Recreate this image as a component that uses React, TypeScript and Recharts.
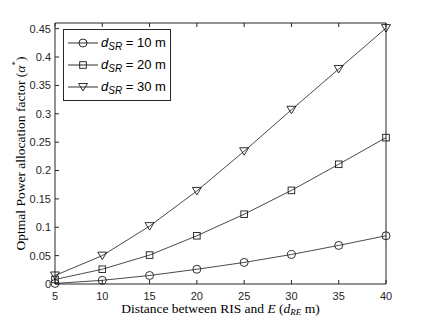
import { LineChart, Line, XAxis, YAxis, Legend } from 'recharts'

const distances = [5, 10, 15, 20, 25, 30, 35, 40]
const alphaD10 = [0.001, 0.0065, 0.015, 0.026, 0.038, 0.052, 0.068, 0.085]
const alphaD20 = [0.008, 0.026, 0.051, 0.085, 0.123, 0.165, 0.211, 0.258]
const alphaD30 = [0.015, 0.05, 0.102, 0.164, 0.234, 0.307, 0.379, 0.451]

const xTicks = [5, 10, 15, 20, 25, 30, 35, 40]
const yTicks = [0, 0.05, 0.1, 0.15, 0.2, 0.25, 0.3, 0.35, 0.4, 0.45]

const seriesInfo = [
  { key: 'd10', label: '10 m', marker: 'circle' },
  { key: 'd20', label: '20 m', marker: 'square' },
  { key: 'd30', label: '30 m', marker: 'triangle' },
]

const data = distances.map((d, i) => ({
  dist: d,
  d10: alphaD10[i],
  d20: alphaD20[i],
  d30: alphaD30[i],
}))

const AXIS = '#262626'
const LINE = '#1a1a1a'
const tickFont = { fontFamily: 'Liberation Sans, Arial, sans-serif', fontSize: 11, fill: AXIS }
const serif = 'Liberation Serif, Times New Roman, serif'

function Marker({ cx, cy, kind }: { cx: number; cy: number; kind: string }) {
  if (cx == null || cy == null) return null
  if (kind === 'circle') {
    return <circle cx={cx} cy={cy} r={4} fill="none" stroke={LINE} strokeWidth={0.9} />
  }
  if (kind === 'square') {
    return <rect x={cx - 3.3} y={cy - 3.3} width={6.6} height={6.6} fill="none" stroke={LINE} strokeWidth={0.9} />
  }
  return (
    <path
      d={`M${cx - 4.5},${cy - 3.5} L${cx + 4.5},${cy - 3.5} L${cx},${cy + 4} Z`}
      fill="none"
      stroke={LINE}
      strokeWidth={0.9}
    />
  )
}

const renderLegend = () => (
  <div
    style={{
      border: `1px solid ${AXIS}`,
      background: '#fff',
      padding: '2px 4px 2px 3px',
      fontFamily: 'Liberation Sans, Arial, sans-serif',
      fontSize: 13,
      color: '#000',
    }}
  >
    {seriesInfo.map((s) => (
      <div key={s.key} style={{ display: 'flex', alignItems: 'center', height: 22 }}>
        <svg width={32} height={14} style={{ marginRight: 2 }}>
          <line x1={1} y1={7} x2={31} y2={7} stroke={LINE} strokeWidth={0.9} />
          <Marker cx={16} cy={7} kind={s.marker} />
        </svg>
        <span>
          <i>d</i>
          <sub style={{ fontSize: 10, fontStyle: 'italic', verticalAlign: -3 }}>SR</sub> = {s.label}
        </span>
      </div>
    ))}
  </div>
)

const fmt = (v: number) => String(Number(v.toFixed(2)))

export default function App() {
  return (
    <div style={{ position: 'absolute', left: 0, top: 0, background: '#fff' }}>
      <LineChart width={427} height={320} data={data} margin={{ top: 22, right: 40, left: 54, bottom: 35 }}>
        <XAxis
          dataKey="dist"
          type="number"
          domain={[5, 40]}
          ticks={xTicks}
          height={1}
          stroke={AXIS}
          tickSize={-4}
          tickMargin={12}
          tick={tickFont}
          label={{
            position: 'bottom',
            content: ({ viewBox }: any) => (
              <text
                x={viewBox.x + viewBox.width / 2}
                y={313}
                textAnchor="middle"
                fontFamily={serif}
                fontSize={13.5}
                fill="#000"
              >
                Distance between RIS and <tspan fontStyle="italic">E</tspan> (
                <tspan fontStyle="italic">d</tspan>
                <tspan fontStyle="italic" fontSize={9} dy={2}>RE</tspan>
                <tspan dy={-2}> m)</tspan>
              </text>
            ),
          }}
        />
        <XAxis
          xAxisId="top"
          orientation="top"
          dataKey="dist"
          type="number"
          domain={[5, 40]}
          ticks={xTicks}
          height={1}
          stroke={AXIS}
          tickSize={-4}
          tickFormatter={() => ''}
        />
        <YAxis
          type="number"
          domain={[0, 0.46]}
          ticks={yTicks}
          width={1}
          stroke={AXIS}
          tickSize={-4}
          tickMargin={8}
          tick={tickFont}
          tickFormatter={fmt}
          label={{
            position: 'left',
            content: ({ viewBox }: any) => {
              const cy = viewBox.y + viewBox.height / 2
              return (
                <text
                  x={20}
                  y={cy}
                  transform={`rotate(-90 20 ${cy})`}
                  textAnchor="middle"
                  dominantBaseline="central"
                  fontFamily={serif}
                  fontSize={13.5}
                  fill="#000"
                >
                  Optmal Power allocation factor (<tspan fontStyle="italic">α</tspan>
                  <tspan fontSize={9} dy={-5}>*</tspan>
                  <tspan dy={5}>)</tspan>
                </text>
              )
            },
          }}
        />
        <YAxis
          yAxisId="right"
          orientation="right"
          type="number"
          domain={[0, 0.46]}
          ticks={yTicks}
          width={1}
          stroke={AXIS}
          tickSize={-4}
          tickFormatter={() => ''}
        />
        <Legend
          layout="vertical"
          align="center"
          verticalAlign="middle"
          content={renderLegend}
          wrapperStyle={{ position: 'absolute', left: 63, top: 29, width: 'auto', height: 'auto' }}
        />
        {seriesInfo.map((s) => (
          <Line
            key={s.key}
            dataKey={s.key}
            stroke={LINE}
            strokeWidth={0.8}
            isAnimationActive={false}
            dot={(p: any) => <Marker key={`${s.key}-${p.index}`} cx={p.cx} cy={p.cy} kind={s.marker} />}
            activeDot={false}
          />
        ))}
      </LineChart>
    </div>
  )
}
